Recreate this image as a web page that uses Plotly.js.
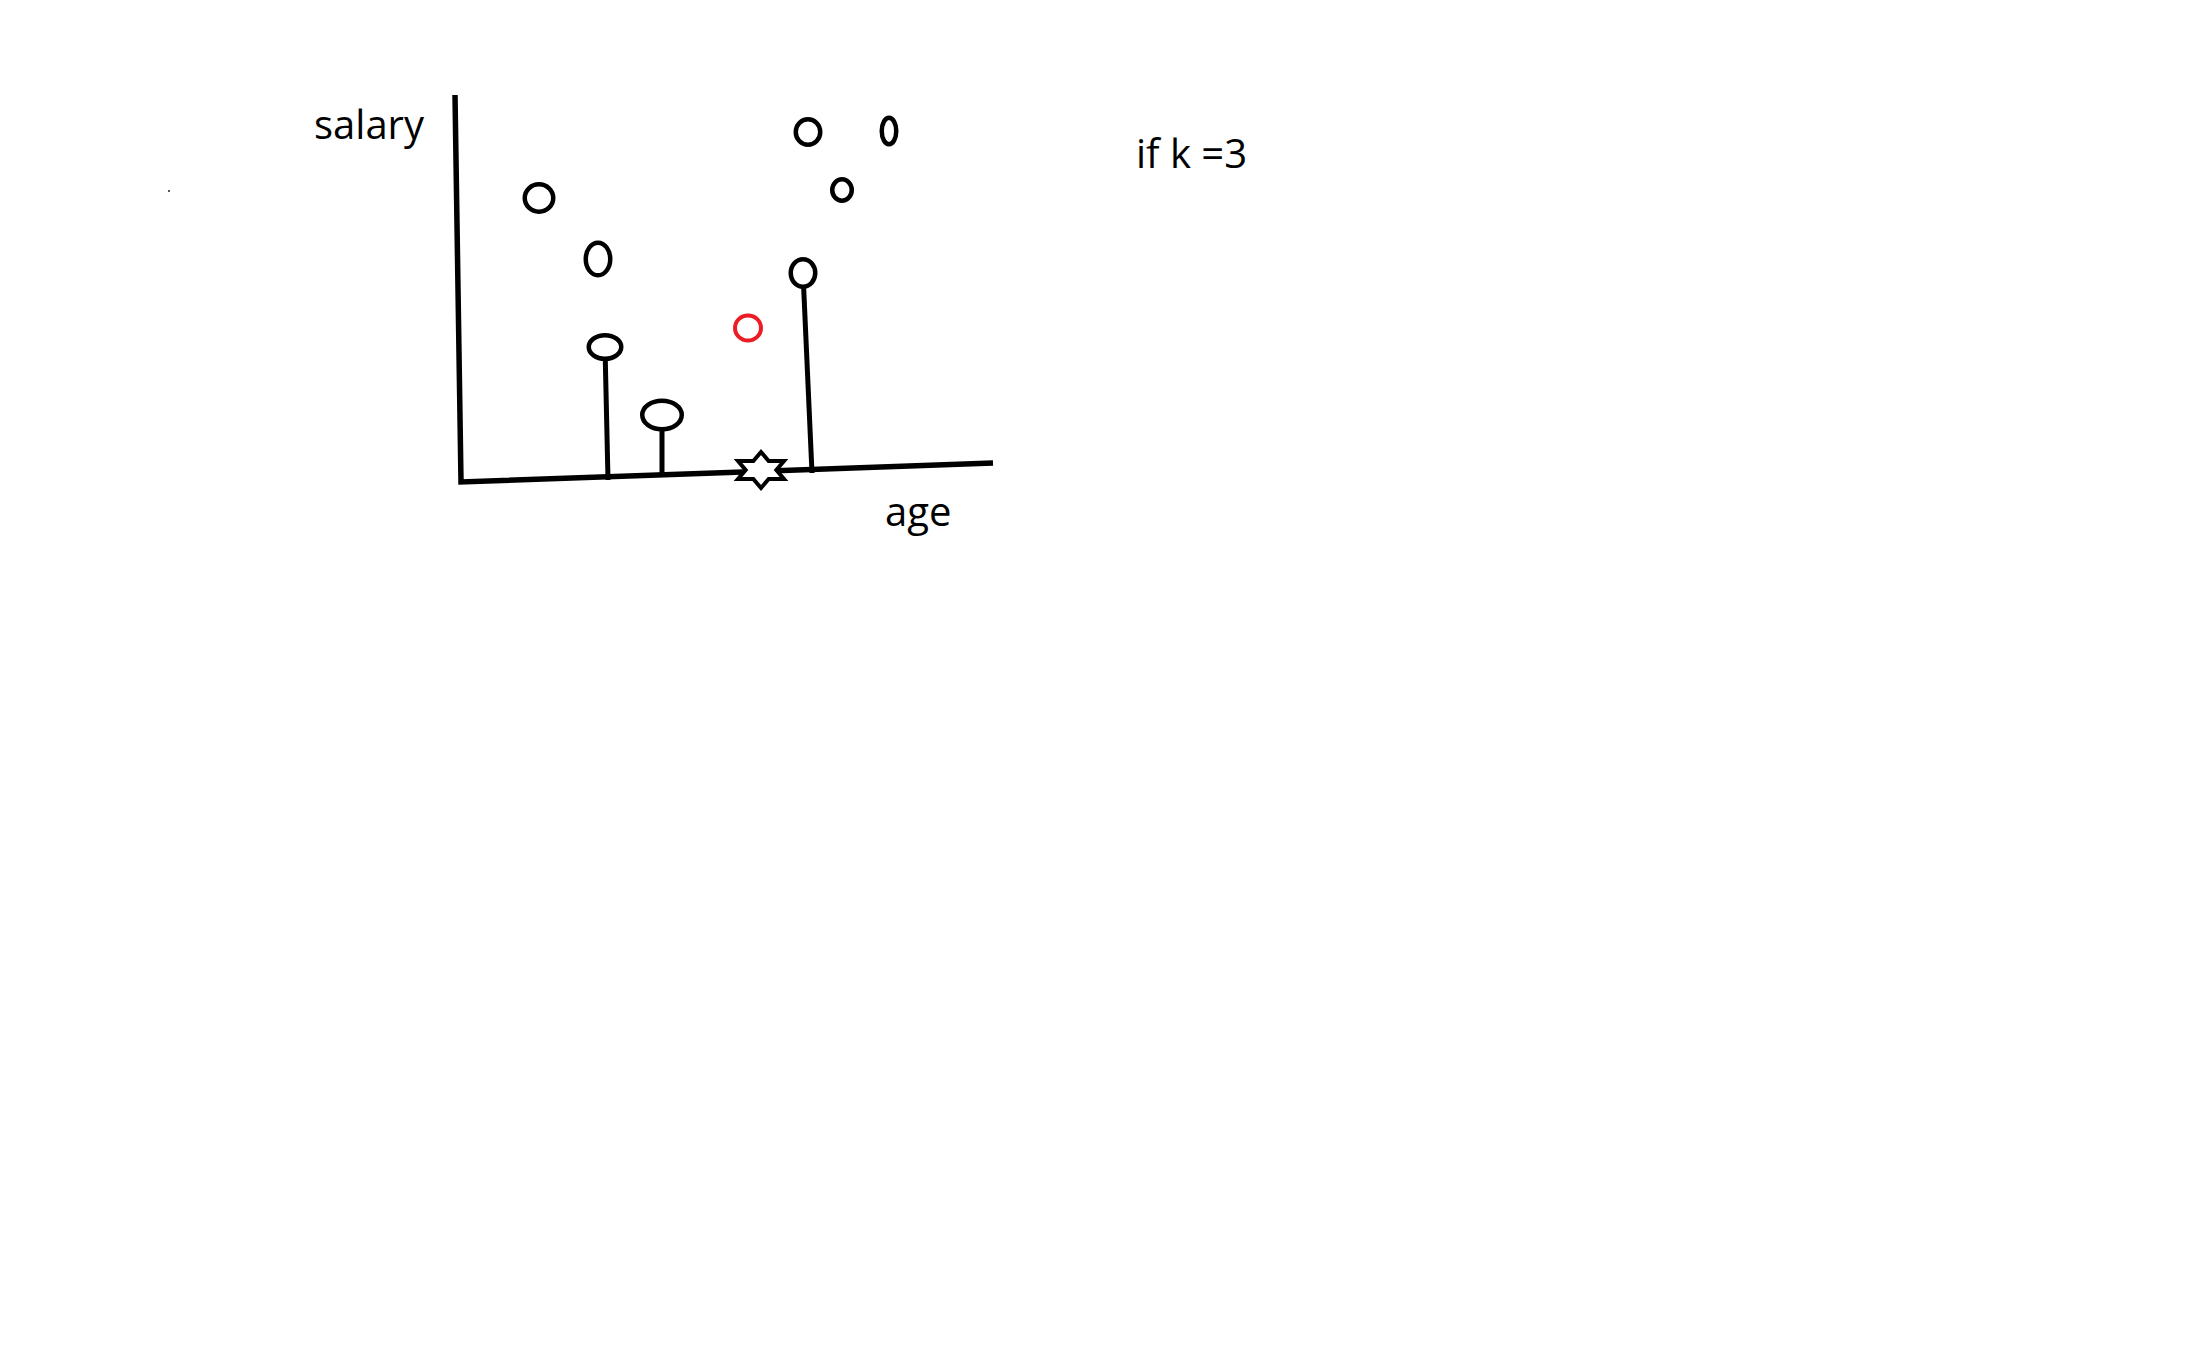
<!DOCTYPE html>
<html>
<head>
<meta charset="utf-8">
<script src="https://cdn.plot.ly/plotly-3.0.1.min.js"></script>
<style>
  html, body { margin: 0; padding: 0; background: #ffffff; }
  #chart { width: 2192px; height: 1370px; }
</style>
</head>
<body>
<div id="chart"></div>
<script>
// ---- data (age / salary units of the sketch) ----
const pointAge    = [7.8, 13.7, 14.4, 20.1, 34.2, 34.7, 38.1, 42.8];
const pointSalary = [28.4, 22.3, 13.5, 6.7, 20.9, 35.0, 29.2, 35.1];
// nearest neighbours (k = 3): index of point and where its drop line meets the age axis
const neighbourIdx = [2, 3, 4];
const footAge      = [14.7, 20.1, 35.1];
const footSalary   = [0.2, 0.8, 0.9];
// new (query) point
const queryAge = [28.7];
const querySalary = [15.4];
// star marked on the age axis
const starAge = [30.0];
const starSalary = [1.2];
// hand-drawn axes (polyline: top of salary axis, origin, end of age axis)
const axisAge    = [-0.6, 0.0, 53.2];
const axisSalary = [38.7, 0.0, 1.9];
// stray dot
const dotAge = [-29.2];
const dotSalary = [29.1];
// texts
const labelText   = ['salary', 'age', 'if k =3'];
const labelAge    = [-14.9, 42.2, 67.3];
const labelSalary = [35.9, -2.8, 33.0];

// ---- styles (pixel sizes of the hand-drawn rings) ----
const ringW = [28.5, 24.5, 32.5, 39.5, 24.5, 24.5, 19.5, 14.5];
const ringH = [27.5, 32.5, 23.5, 28.5, 27.5, 25.5, 21.5, 26.5];
const queryW = 26, queryH = 25;
const starW = 23, starH = 18;

const traces = [];
// axes
traces.push({
  x: axisAge, y: axisSalary, type: 'scatter', mode: 'lines',
  line: { color: '#000000', width: 5.5 }, hoverinfo: 'skip'
});
// drop lines of the neighbours
neighbourIdx.forEach((idx, i) => {
  traces.push({
    x: [pointAge[idx], footAge[i]], y: [pointSalary[idx], footSalary[i]],
    type: 'scatter', mode: 'lines',
    line: { color: '#000000', width: 5 }, hoverinfo: 'skip'
  });
});
// stray dot
traces.push({
  x: dotAge, y: dotSalary, type: 'scatter', mode: 'markers',
  marker: { symbol: 'square', size: 2, color: '#555555' }, hoverinfo: 'skip'
});

const shapes = [];
pointAge.forEach((a, i) => {
  shapes.push({
    type: 'circle', xref: 'x', yref: 'y',
    xsizemode: 'pixel', ysizemode: 'pixel',
    xanchor: a, yanchor: pointSalary[i],
    x0: -ringW[i] / 2, x1: ringW[i] / 2, y0: -ringH[i] / 2, y1: ringH[i] / 2,
    line: { color: '#000000', width: 4.5 }, fillcolor: '#ffffff'
  });
});
queryAge.forEach((a, i) => {
  shapes.push({
    type: 'circle', xref: 'x', yref: 'y',
    xsizemode: 'pixel', ysizemode: 'pixel',
    xanchor: a, yanchor: querySalary[i],
    x0: -queryW / 2, x1: queryW / 2, y0: -queryH / 2, y1: queryH / 2,
    line: { color: '#ed1c24', width: 4 }, fillcolor: 'rgba(0,0,0,0)'
  });
});
// six-pointed star glyph (offsets in pixels around its anchor)
function hexagramPath(W, H) {
  const v = [[0, -H], [W / 3, -H / 2], [W, -H / 2], [2 * W / 3, 0], [W, H / 2], [W / 3, H / 2],
             [0, H], [-W / 3, H / 2], [-W, H / 2], [-2 * W / 3, 0], [-W, -H / 2], [-W / 3, -H / 2]];
  return 'M' + v.map(p => p[0].toFixed(2) + ',' + p[1].toFixed(2)).join('L') + 'Z';
}
starAge.forEach((a, i) => {
  shapes.push({
    type: 'path', xref: 'x', yref: 'y',
    xsizemode: 'pixel', ysizemode: 'pixel',
    xanchor: a, yanchor: starSalary[i],
    path: hexagramPath(starW, starH),
    line: { color: '#000000', width: 4 }, fillcolor: '#ffffff'
  });
});

const annotations = labelText.map((t, i) => ({
  text: t, x: labelAge[i], y: labelSalary[i], xref: 'x', yref: 'y',
  xanchor: 'left', yanchor: 'middle', showarrow: false,
  font: { family: 'Open Sans', size: 40, color: '#000000' }
}));

const layout = {
  width: 2192, height: 1370,
  margin: { l: 0, r: 0, t: 0, b: 0, pad: 0 },
  paper_bgcolor: '#ffffff', plot_bgcolor: '#ffffff',
  showlegend: false,
  xaxis: { range: [-46.1, 173.1], visible: false, fixedrange: true },
  yaxis: { range: [-88.8, 48.2], visible: false, fixedrange: true },
  shapes: shapes,
  annotations: annotations
};

Plotly.newPlot('chart', traces, layout, { displayModeBar: false, staticPlot: true });
</script>
</body>
</html>
